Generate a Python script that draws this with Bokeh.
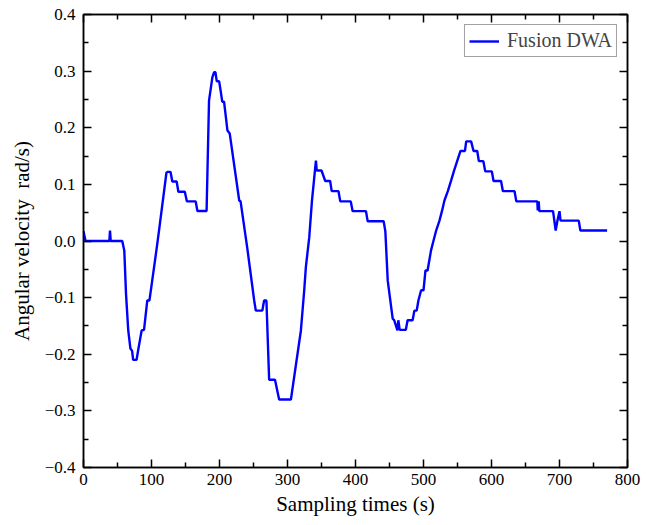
from bokeh.plotting import figure
from bokeh.models import Range1d, LinearAxis, FixedTicker, Legend, LegendItem
from bokeh.embed import file_html
from bokeh.resources import INLINE

# sampling times and angular velocity
t = [0, 3, 38, 39, 40, 57, 60, 62.5, 65.8, 69, 71.5, 73, 78, 80.5, 83, 85.5, 89, 93.8, 97,
     107.5, 111, 122, 124, 128, 130.6, 137, 139.5, 149, 152, 165, 167.5, 181,
     184.6, 189.5, 192, 194, 196, 199.5, 202, 204, 206.7, 211.7, 215, 229, 231, 241,
     251, 253.4, 263, 265.6, 269, 273, 281.6, 287.7, 305,
     319.7, 324.6, 327, 332, 336, 341.8, 343, 350, 355.5, 362.7, 365, 375, 377.6, 393,
     395.8, 415.4, 417.9, 441.4, 443.9, 447.4, 454.7, 457, 461.7, 463, 465, 474,
     476.6, 484, 486.6, 490, 492.5, 496.5, 500, 502.9, 506, 511, 514.6, 518.6, 523.5,
     527.4, 530.8, 535.8, 540.7, 544.6, 549.5, 554.4, 561, 562.8, 570, 573.6, 579,
     581.4, 588, 590.8, 600.5, 603, 614, 616.8, 633.9, 636.5, 667.4, 668, 669.4, 670.3,
     690.5, 694.4, 696.8, 700, 701.5, 728.3, 730.7, 770]
w = [0.017, 0, 0, 0.0185, 0, 0, -0.017, -0.093, -0.158, -0.19, -0.194, -0.21, -0.21, -0.192,
     -0.175, -0.158, -0.157, -0.105, -0.105,
     -0.014, 0.018, 0.121, 0.122, 0.122, 0.105, 0.105, 0.087, 0.087, 0.070, 0.070, 0.053, 0.053,
     0.248, 0.289, 0.298, 0.298, 0.282, 0.282, 0.263, 0.246, 0.246, 0.195, 0.19, 0.0715, 0.07, -0.014,
     -0.105, -0.123, -0.123, -0.105, -0.105, -0.245, -0.245, -0.28, -0.28,
     -0.158, -0.087, -0.046, 0.0067, 0.0715, 0.142, 0.1245, 0.1245, 0.106, 0.106, 0.088, 0.088,
     0.070, 0.070,
     0.0527, 0.0527, 0.035, 0.035, 0.017, -0.07, -0.137, -0.14, -0.158, -0.14, -0.157, -0.157,
     -0.14, -0.14, -0.123, -0.123, -0.105, -0.087, -0.087, -0.052, -0.052, -0.017, 0.0, 0.0185, 0.036,
     0.054, 0.0715, 0.088, 0.107, 0.123, 0.141, 0.159, 0.159, 0.176, 0.176, 0.159, 0.159,
     0.141, 0.141, 0.123, 0.123, 0.106, 0.106, 0.088, 0.088, 0.070, 0.070, 0.054, 0.070, 0.0527,
     0.0527, 0.0185, 0.035, 0.0527, 0.036, 0.036, 0.0185, 0.0185]

x_ticks = [0, 100, 200, 300, 400, 500, 600, 700, 800]
y_ticks = [-0.4, -0.3, -0.2, -0.1, 0.0, 0.1, 0.2, 0.3, 0.4]
y_tick_labels = ["\u22120.4", "\u22120.3", "\u22120.2", "\u22120.1", "0.0", "0.1", "0.2", "0.3", "0.4"]

FONT = "Liberation Serif"

p = figure(width=654, height=525, output_backend="svg", toolbar_location=None,
           x_range=Range1d(0, 800), y_range=Range1d(-0.4, 0.4),
           min_border_left=83, min_border_right=27, min_border_top=14, min_border_bottom=58)
p.grid.visible = False
p.outline_line_color = "black"
p.outline_line_width = 1.5
p.background_fill_color = "white"
p.border_fill_color = "white"

r = p.line(t, w, line_color="#0000FF", line_width=2.4)

def style_axis(ax, show_labels=True):
    ax.axis_line_color = "black"
    ax.axis_line_width = 1.5
    ax.major_tick_in = 8
    ax.major_tick_out = 0
    ax.minor_tick_in = 5
    ax.minor_tick_out = 0
    ax.major_tick_line_width = 1.5
    ax.minor_tick_line_width = 1.5
    ax.major_label_text_font = FONT
    ax.major_label_text_font_size = "17px"
    ax.major_label_text_color = "black" if show_labels else None
    ax.axis_label_text_font = FONT
    ax.axis_label_text_font_size = "21px"
    ax.axis_label_text_font_style = "normal"
    ax.axis_label_text_color = "black"

xt = FixedTicker(ticks=x_ticks, minor_ticks=[v + 50 for v in x_ticks[:-1]])
yt = FixedTicker(ticks=y_ticks, minor_ticks=[round(v + 0.05, 2) for v in y_ticks[:-1]])

p.xaxis.ticker = xt
p.yaxis.ticker = yt
p.yaxis.major_label_overrides = {v: s for v, s in zip(y_ticks, y_tick_labels)}
p.xaxis.axis_label = "Sampling times (s)"
p.yaxis.axis_label = "Angular velocity\u00a0\u00a0rad/s)"
style_axis(p.xaxis[0])
style_axis(p.yaxis[0])
p.xaxis.major_label_text_font = FONT
p.yaxis.major_label_text_font = FONT
p.xaxis.major_label_standoff = 6
p.yaxis.major_label_standoff = 8
p.xaxis.axis_label_standoff = 4
p.yaxis.axis_label_standoff = 8

top = LinearAxis(ticker=FixedTicker(ticks=x_ticks, minor_ticks=[v + 50 for v in x_ticks[:-1]]))
style_axis(top, show_labels=False)
top.major_label_text_font_size = "0px"
top.major_label_standoff = 0
p.add_layout(top, "above")
right = LinearAxis(ticker=FixedTicker(ticks=y_ticks, minor_ticks=[round(v + 0.05, 2) for v in y_ticks[:-1]]))
style_axis(right, show_labels=False)
right.major_label_text_font_size = "0px"
right.major_label_standoff = 0
p.add_layout(right, "right")

legend = Legend(items=[LegendItem(label="Fusion DWA", renderers=[r])],
                location="top_right")
legend.label_text_font = FONT
legend.label_text_font_size = "20px"
legend.border_line_color = "#444444"
legend.border_line_width = 1
legend.glyph_width = 30
legend.padding = 4
legend.spacing = 0
legend.margin = 10
legend.label_standoff = 8
legend.background_fill_alpha = 1
p.add_layout(legend)

open("out.html", "w").write(file_html(p, INLINE))
